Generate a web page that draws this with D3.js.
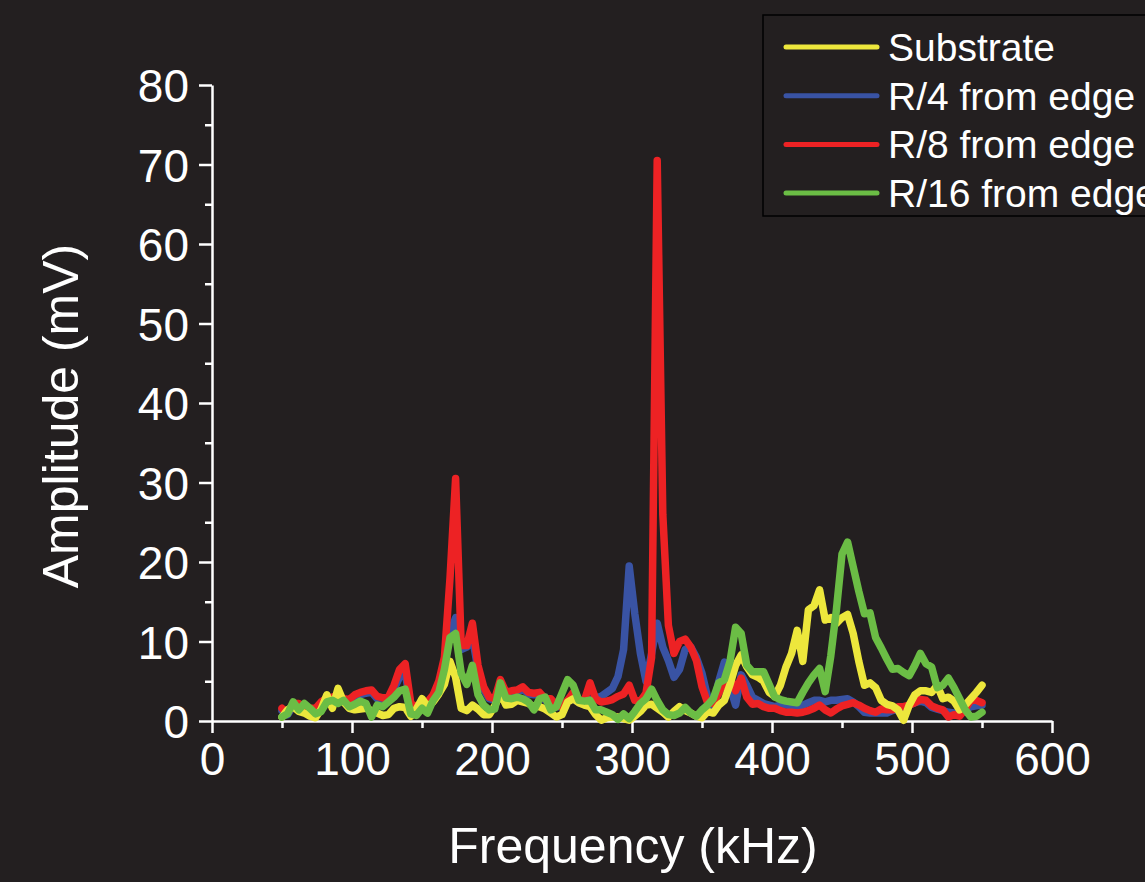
<!DOCTYPE html>
<meta charset="utf-8">
<head>
<title>Amplitude vs Frequency</title>
<script src="https://d3js.org/d3.v7.min.js"></script>
<style>
    body { margin: 0; background-color: #231f20; }
    svg { display: block; font-family: "Liberation Sans", Arial, sans-serif; }
    .axis path, .axis line { stroke: #fff; stroke-width: 2.5px; fill: none; }
    .axis text { fill: #fff; font-size: 46px; font-family: "Liberation Sans", Arial, sans-serif; }
    .title { fill: #fff; font-size: 50px; }
    .legend text { fill: #fff; font-size: 39px; }
    .series { fill: none; stroke-width: 7.5px; stroke-linejoin: round; stroke-linecap: round; }
</style>
</head>
<body>
<svg width="1145" height="882"></svg>
<script>
// frequency grid in kHz (50 .. 550, every 4 kHz)
var freq = d3.range(50, 551, 4);

var substrate = [0.5,1.4,1.8,1.2,1.0,0.6,0.4,1.5,3.3,1.6,4.1,2.4,1.6,1.4,1.5,1.6,1.3,1.0,0.7,0.8,
    1.6,1.8,1.7,0.6,1.5,2.8,1.8,2.4,3.4,4.6,7.5,5.5,1.6,1.3,2.0,1.5,0.8,0.8,1.9,3.5,
    2.0,2.1,2.6,2.4,2.2,1.8,1.8,1.5,1.0,0.5,0.8,2.4,2.8,2.3,2.0,1.8,0.8,0.1,0.4,0.5,
    0.5,0.3,0.1,0.6,1.2,2.0,2.1,1.6,1.1,0.5,1.2,1.8,1.3,1.0,0.6,0.4,1.2,1.0,2.0,2.6,
    4.6,7.0,8.3,6.8,5.8,5.5,5.0,3.6,3.1,4.5,6.8,8.5,11.4,7.5,14.0,14.5,16.5,12.7,13.0,12.3,
    13.0,13.4,11.0,7.5,4.5,4.8,4.2,2.6,2.1,1.9,1.4,0.1,2.0,3.3,3.8,3.8,3.6,4.5,2.8,3.0,
    2.5,1.4,2.0,2.8,3.6,4.5];

var r4 = [1.3,0.8,1.9,1.9,1.5,1.3,1.3,2.1,2.6,2.7,3.0,2.5,2.4,3.0,3.3,3.5,3.6,2.8,2.6,2.7,
    4.0,5.5,6.0,2.0,1.6,1.8,2.2,3.0,4.6,7.0,11.0,13.0,9.0,9.3,10.5,6.5,4.0,2.8,2.6,4.8,
    3.4,3.6,3.7,4.0,3.4,3.3,3.4,2.6,2.6,1.8,1.8,2.5,2.8,2.3,2.5,2.7,2.9,3.1,3.6,4.1,
    5.6,9.0,19.5,13.5,8.5,5.0,8.5,12.3,9.3,7.6,5.5,6.5,9.0,9.3,8.0,6.0,3.0,1.8,5.0,7.4,
    4.3,2.0,5.8,4.5,3.0,2.6,2.2,2.0,1.8,2.0,2.0,1.9,1.8,2.0,2.3,2.6,2.6,2.4,2.6,2.6,
    2.7,2.8,2.4,1.8,1.1,1.0,1.0,1.0,1.0,1.3,1.5,1.6,2.0,2.3,2.5,2.3,1.7,1.5,1.3,1.1,
    1.0,1.0,1.4,1.8,1.9,2.0];

var r8 = [1.6,1.0,2.2,2.2,1.8,1.6,1.6,2.4,2.9,3.0,3.3,2.8,2.7,3.3,3.6,3.8,3.9,3.1,2.9,3.0,
    4.5,6.5,7.2,2.2,1.8,2.0,2.4,3.3,5.0,8.0,18.0,30.5,9.5,9.5,12.3,7.0,4.3,3.0,2.8,5.2,
    3.6,3.8,3.9,4.3,3.6,3.5,3.6,2.8,2.8,2.0,1.8,2.6,3.6,2.6,2.6,4.8,2.8,2.4,2.5,2.7,
    3.1,3.4,4.5,2.6,2.5,3.5,8.0,70.5,26.0,12.0,8.5,10.0,10.3,9.3,7.6,4.3,2.3,2.2,3.5,5.0,
    5.5,3.8,5.4,3.0,2.1,2.2,1.8,1.6,1.6,1.3,1.1,1.1,1.0,1.1,1.3,1.6,2.0,1.4,1.0,1.5,
    1.9,2.1,2.3,2.0,1.6,1.3,1.1,1.5,1.4,1.4,1.8,1.8,2.0,2.3,2.7,2.6,1.9,1.6,1.4,0.5,
    0.8,0.6,1.5,2.6,2.6,2.3];

var r16 = [0.5,0.9,2.4,1.4,2.2,1.6,0.9,1.2,2.4,2.6,2.2,2.6,1.8,2.1,2.5,2.2,0.5,2.0,1.8,2.4,
    3.0,3.8,4.0,0.9,0.7,1.6,1.0,2.6,3.6,6.5,10.5,11.0,6.0,4.6,7.0,3.3,2.0,1.4,1.5,4.8,
    2.9,2.8,3.0,2.8,2.4,1.4,2.8,3.0,1.4,1.8,3.5,5.2,4.5,2.6,2.5,2.6,1.4,1.4,1.1,0.8,
    0.2,0.9,0.3,1.2,2.2,2.8,4.0,2.6,1.4,0.8,0.7,1.0,1.7,1.0,0.6,1.4,2.0,2.8,4.8,5.2,
    7.5,11.8,11.0,7.0,6.2,6.2,6.2,4.6,3.0,2.7,2.5,2.4,2.3,3.6,4.8,5.8,6.6,3.7,8.2,14.0,
    21.0,22.5,19.4,16.3,13.5,13.6,10.5,9.2,7.8,6.5,6.6,6.1,5.7,7.0,8.5,7.2,6.8,4.2,4.5,5.4,
    4.2,2.8,1.4,0.5,0.6,1.1];

var seriesNames = ["Substrate", "R/4 from edge", "R/8 from edge", "R/16 from edge"];
var seriesColors = ["#ede73c", "#3953a4", "#ed2224", "#6bbd45"];
var seriesValues = [substrate, r4, r8, r16];
var drawOrder = [1, 2, 0, 3];

var xTicks = [0, 100, 200, 300, 400, 500, 600];
var yTicks = [0, 10, 20, 30, 40, 50, 60, 70, 80];

var svg = d3.select("svg");

var x = d3.scaleLinear().domain([0, 600]).range([212, 1052]);
var y = d3.scaleLinear().domain([0, 80]).range([721, 85]);

// minor ticks first, then major with labels
svg.append("g")
    .attr("class", "axis")
    .attr("transform", "translate(0,721)")
    .call(d3.axisBottom(x).tickValues(d3.range(50, 600, 100)).tickSize(7).tickFormat(""))
    .select(".domain").remove();
svg.append("g")
    .attr("class", "axis")
    .attr("transform", "translate(212,0)")
    .call(d3.axisLeft(y).tickValues(d3.range(5, 80, 10)).tickSize(7).tickFormat(""))
    .select(".domain").remove();

var xAxis = svg.append("g")
    .attr("class", "axis")
    .attr("transform", "translate(0,721)")
    .call(d3.axisBottom(x).tickValues(xTicks).tickSize(12).tickSizeOuter(0).tickPadding(6));
xAxis.selectAll("text").attr("dy", "0.78em");

var yAxis = svg.append("g")
    .attr("class", "axis")
    .attr("transform", "translate(212,0)")
    .call(d3.axisLeft(y).tickValues(yTicks).tickSize(13).tickSizeOuter(0).tickPadding(10));
yAxis.selectAll("text").attr("dy", "0.36em");

svg.append("text")
    .attr("class", "title")
    .attr("x", 633)
    .attr("y", 863)
    .attr("text-anchor", "middle")
    .text("Frequency (kHz)");

svg.append("text")
    .attr("class", "title")
    .attr("transform", "translate(78,416) rotate(-90)")
    .attr("text-anchor", "middle")
    .text("Amplitude (mV)");

var line = d3.line()
    .x(function(d, i) { return x(freq[i]); })
    .y(function(d) { return y(d); });

drawOrder.forEach(function(k) {
    svg.append("path")
        .datum(seriesValues[k])
        .attr("class", "series")
        .attr("stroke", seriesColors[k])
        .attr("d", line);
});

// legend (the box runs off the right edge, as in the original)
var legend = svg.append("g").attr("class", "legend");
legend.append("rect")
    .attr("x", 763).attr("y", 15)
    .attr("width", 420).attr("height", 201)
    .attr("fill", "#231f20")
    .attr("stroke", "#000")
    .attr("stroke-width", 1.5);

seriesNames.forEach(function(name, i) {
    var ly = 47 + i * 48.7;
    legend.append("line")
        .attr("x1", 786).attr("x2", 877)
        .attr("y1", ly).attr("y2", ly)
        .attr("stroke", seriesColors[i])
        .attr("stroke-width", 5)
        .attr("stroke-linecap", "round");
    legend.append("text")
        .attr("x", 888)
        .attr("y", ly)
        .attr("dy", "0.36em")
        .text(name);
});
</script>
</body>
